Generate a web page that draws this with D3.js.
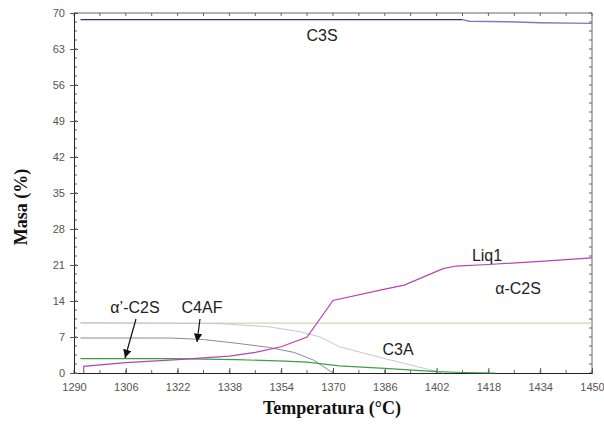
<!DOCTYPE html>
<html>
<head>
<meta charset="utf-8">
<script src="https://cdn.jsdelivr.net/npm/d3@7"></script>
<style>
  body { margin: 0; background: #fff; }
  svg { display: block; }
  .tick text { font-family: "Liberation Sans", Arial, sans-serif; font-size: 11px; fill: #555; }
  .lbl { font-family: "Liberation Sans", Arial, sans-serif; font-size: 16px; fill: #222; }
  .title { font-family: "Liberation Serif", "Times New Roman", serif; font-size: 18px; font-weight: bold; fill: #111; }
</style>
</head>
<body>
<svg width="604" height="425"></svg>
<script>
// tick labels
const xTicks = [1290, 1306, 1322, 1338, 1354, 1370, 1386, 1402, 1418, 1434, 1450];
const yTicks = [0, 7, 14, 21, 28, 35, 42, 49, 56, 63, 70];

// series: [temperature, mass %]
const c3s = [[1292, 68.7], [1410, 68.7], [1412, 68.4], [1424, 68.3], [1434, 68.1], [1450, 68.0]];
const liq1 = [[1293, 0], [1293, 1.3], [1306, 2.0], [1322, 2.6], [1338, 3.3], [1346, 4.0], [1354, 5.1],
  [1362, 7.0], [1370, 14.1], [1386, 16.3], [1392, 17.1], [1404, 20.3], [1408, 20.8], [1418, 21.1],
  [1434, 21.7], [1450, 22.4]];
const aC2S = [[1292, 9.7], [1450, 9.7]];
const c3a = [[1292, 9.8], [1335, 9.6], [1350, 9.0], [1360, 8.0], [1366, 7.0], [1372, 5.1], [1386, 2.8],
  [1402, 0.3], [1404, 0]];
const c4af = [[1292, 6.8], [1320, 6.8], [1330, 6.5], [1340, 5.8], [1350, 5.0], [1358, 4.0], [1364, 2.5],
  [1370, 0]];
const apC2S = [[1292, 2.8], [1320, 2.8], [1340, 2.6], [1355, 2.3], [1362, 2.1], [1372, 1.4], [1386, 0.9],
  [1402, 0.25], [1410, 0.1], [1420, 0]];

const svg = d3.select("svg");
const mLeft = 74, mRight = 592, mTop = 13, mBottom = 373;

const x = d3.scaleLinear().domain([1290, 1450]).range([mLeft, mRight]);
const y = d3.scaleLinear().domain([0, 70]).range([mBottom, mTop]);

const minorX = d3.range(1290, 1451, 8);
const minorY = d3.range(0, 70.1, 1.75);

// frame
svg.append("line").attr("x1", mLeft).attr("x2", mRight).attr("y1", mTop).attr("y2", mTop).attr("stroke", "#666");
svg.append("line").attr("x1", mRight).attr("x2", mRight).attr("y1", mTop).attr("y2", mBottom).attr("stroke", "#666");

// minor ticks (inside)
const gt = svg.append("g").attr("stroke", "#666").attr("stroke-width", 1);
minorX.forEach(v => {
  gt.append("line").attr("x1", x(v)).attr("x2", x(v)).attr("y1", mBottom).attr("y2", mBottom - 3);
  gt.append("line").attr("x1", x(v)).attr("x2", x(v)).attr("y1", mTop).attr("y2", mTop + 3);
});
minorY.forEach(v => {
  gt.append("line").attr("x1", mLeft).attr("x2", mLeft + 3).attr("y1", y(v)).attr("y2", y(v));
  gt.append("line").attr("x1", mRight).attr("x2", mRight - 3).attr("y1", y(v)).attr("y2", y(v));
});

svg.append("g")
  .attr("transform", `translate(0,${mBottom})`)
  .call(d3.axisBottom(x).tickValues(xTicks).tickSize(-5).tickPadding(10).tickFormat(d3.format("d")))
  .call(g => g.select(".domain").attr("stroke", "#222"))
  .call(g => g.selectAll(".tick line").attr("stroke", "#555"));

svg.append("g")
  .attr("transform", `translate(${mLeft},0)`)
  .call(d3.axisLeft(y).tickValues(yTicks).tickSize(4).tickPadding(5))
  .call(g => g.select(".domain").attr("stroke", "#222"))
  .call(g => g.selectAll(".tick line").attr("stroke", "#555").attr("x2", 4).attr("x1", -4));

const line = d3.line().x(d => x(d[0])).y(d => y(d[1]));

const series = [
  [aC2S, "#c9c9a2", 1],
  [c3a, "#cbc5cf", 1],
  [c4af, "#8e8896", 1],
  [apC2S, "#3f9f45", 1.2],
  [liq1, "#b544b5", 1.2],
];
series.forEach(([d, c, w]) => {
  svg.append("path").datum(d).attr("d", line).attr("fill", "none").attr("stroke", c).attr("stroke-width", w);
});
svg.append("path").datum(c3s.slice(0, 2)).attr("d", line).attr("fill", "none").attr("stroke", "#2e2e80").attr("stroke-width", 1.3);
svg.append("path").datum(c3s.slice(1)).attr("d", line).attr("fill", "none").attr("stroke", "#7d7dc0").attr("stroke-width", 1.3);

// labels
const labels = [
  ["C3S", 322, 41],
  ["Liq1", 487, 261],
  ["\u03b1-C2S", 518, 294],
  ["C3A", 398, 355],
  ["\u03b1\u2019-C2S", 135, 313],
  ["C4AF", 202, 313],
];
labels.forEach(([t, lx, ly]) => {
  svg.append("text").attr("class", "lbl").attr("x", lx).attr("y", ly).attr("text-anchor", "middle").text(t);
});

// arrows
svg.append("defs").append("marker")
  .attr("id", "ah").attr("viewBox", "0 0 10 10").attr("refX", 10).attr("refY", 5)
  .attr("markerWidth", 7).attr("markerHeight", 7).attr("orient", "auto-start-reverse")
  .append("path").attr("d", "M0,0L10,5L0,10z").attr("fill", "#111");
[[136, 319, 125, 358], [200, 319, 197, 342]].forEach(([x1, y1, x2, y2]) => {
  svg.append("line").attr("x1", x1).attr("y1", y1).attr("x2", x2).attr("y2", y2)
    .attr("stroke", "#111").attr("stroke-width", 1.2).attr("marker-end", "url(#ah)");
});

svg.append("text").attr("class", "title").attr("x", 332).attr("y", 414).attr("text-anchor", "middle")
  .text("Temperatura (\u00b0C)");
svg.append("text").attr("class", "title").attr("transform", "translate(27,207) rotate(-90)")
  .attr("text-anchor", "middle").text("Masa (%)");
</script>
</body>
</html>
